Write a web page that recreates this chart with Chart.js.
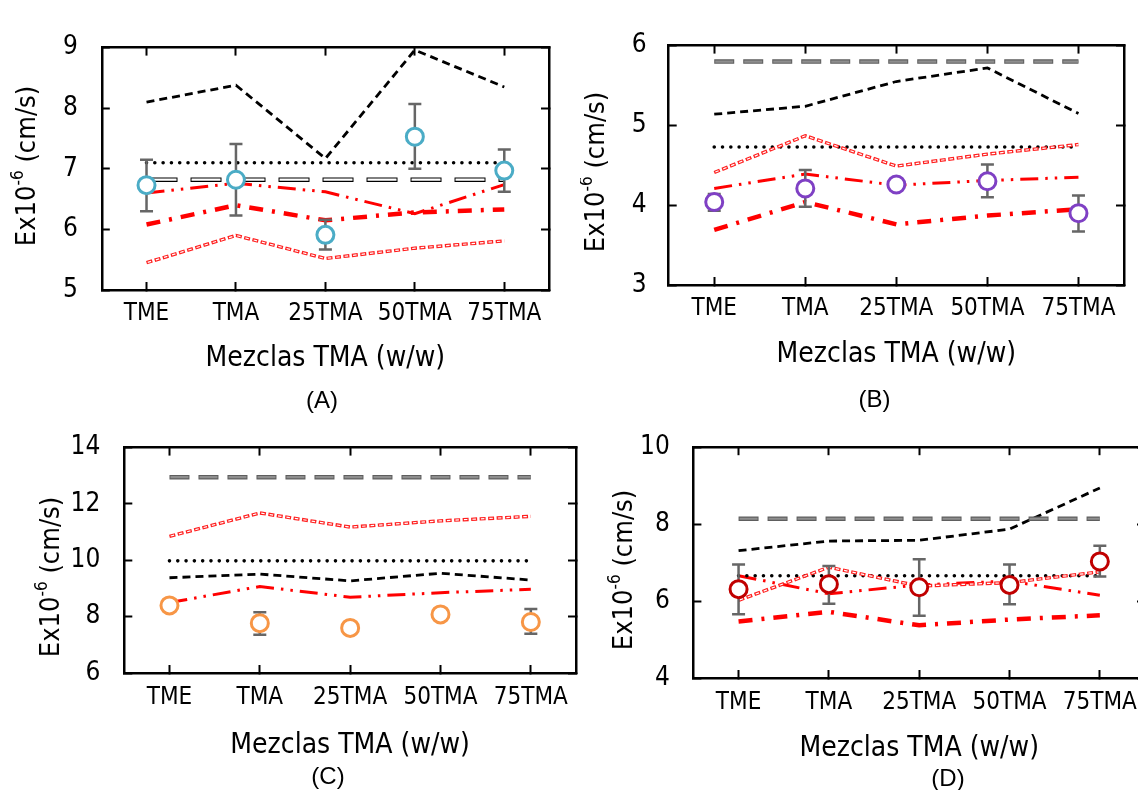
<!DOCTYPE html>
<html>
<head>
<meta charset="utf-8">
<script src="https://cdn.jsdelivr.net/npm/chart.js@4.4.1/dist/chart.umd.min.js"></script>
<style>
  html, body { margin: 0; padding: 0; background: #fff; }
  body { width: 1138px; height: 790px; overflow: hidden; position: relative; }
  canvas { position: absolute; }
</style>
</head>
<body>
<canvas id="chartA" width="580" height="420" style="left:0px;top:0px"></canvas>
<canvas id="chartB" width="558" height="420" style="left:580px;top:0px"></canvas>
<canvas id="chartC" width="590" height="390" style="left:0px;top:400px"></canvas>
<canvas id="chartD" width="570" height="390" style="left:590px;top:400px"></canvas>
<script>
var categories = ['TME', 'TMA', '25TMA', '50TMA', '75TMA'];
var xTitle = 'Mezclas TMA (w/w)';

// (A)
var aTicks = [5, 6, 7, 8, 9];
var aGrey = [6.82, 6.82, 6.82, 6.82, 6.82];
var aBlackDash = [8.10, 8.38, 7.17, 8.96, 8.35];
var aDotted = [7.10, 7.10, 7.10, 7.10, 7.10];
var aRedHollow = [5.45, 5.90, 5.52, 5.69, 5.81];
var aRedDashDotDot = [6.60, 6.76, 6.62, 6.26, 6.74];
var aRedDashDot = [6.08, 6.40, 6.15, 6.28, 6.33];
var aMean = [6.73, 6.82, 5.91, 7.53, 6.97];
var aLow = [6.30, 6.23, 5.67, 7.00, 6.62];
var aHigh = [7.15, 7.41, 6.16, 8.07, 7.32];

// (B)
var bTicks = [3, 4, 5, 6];
var bGrey = [5.80, 5.80, 5.80, 5.80, 5.80];
var bBlackDash = [5.14, 5.24, 5.55, 5.72, 5.15];
var bDotted = [4.73, 4.73, 4.73, 4.73, 4.73];
var bRedHollow = [4.41, 4.87, 4.49, 4.64, 4.76];
var bRedDashDotDot = [4.21, 4.39, 4.25, 4.31, 4.35];
var bRedDashDot = [3.69, 4.04, 3.76, 3.87, 3.95];
var bMean = [4.04, 4.21, 4.26, 4.30, 3.90];
var bLow = [3.93, 3.98, 4.22, 4.10, 3.67];
var bHigh = [4.14, 4.44, 4.30, 4.51, 4.12];

// (C)
var cTicks = [6, 8, 10, 12, 14];
var cGrey = [12.95, 12.95, 12.95, 12.95, 12.95];
var cBlackDash = [9.38, 9.51, 9.27, 9.54, 9.30];
var cDotted = [9.98, 9.98, 9.98, 9.98, 9.98];
var cRedHollow = [10.85, 11.68, 11.18, 11.40, 11.56];
var cRedDashDotDot = [8.50, 9.07, 8.69, 8.85, 8.97];
var cMean = [8.40, 7.77, 7.60, 8.08, 7.81];
var cLow = [8.32, 7.36, 7.55, 8.03, 7.39];
var cHigh = [8.48, 8.16, 7.65, 8.13, 8.27];

// (D)
var dTicks = [4, 6, 8, 10];
var dGrey = [8.14, 8.14, 8.14, 8.14, 8.14];
var dBlackDash = [7.31, 7.56, 7.58, 7.87, 8.94];
var dDotted = [6.66, 6.66, 6.66, 6.66, 6.66];
var dRedHollow = [6.02, 6.88, 6.39, 6.48, 6.76];
var dRedDashDotDot = [6.66, 6.19, 6.42, 6.52, 6.15];
var dRedDashDot = [5.47, 5.72, 5.37, 5.52, 5.63];
var dMean = [6.31, 6.44, 6.36, 6.42, 7.03];
var dLow = [5.66, 5.93, 5.62, 5.92, 6.64];
var dHigh = [6.95, 6.91, 7.09, 6.95, 7.44];

var NARROW = "'Liberation Sans Narrow', 'Arial Narrow', 'DejaVu Sans Condensed', 'Liberation Sans', Arial, sans-serif";
var PLAIN = "'Liberation Sans', Arial, sans-serif";

// error bars go under the circles (dataset 0 is the circles)
var errorBars = {
  id: 'errorBars',
  beforeDatasetDraw: function(chart, args, opts) {
    if (args.index !== 0) return;
    var ctx = chart.ctx, x = chart.scales.x, y = chart.scales.y;
    ctx.save();
    ctx.strokeStyle = '#666';
    ctx.lineWidth = 2.5;
    opts.low.forEach(function(lo, i) {
      var px = x.getPixelForValue(i);
      var y1 = y.getPixelForValue(lo), y2 = y.getPixelForValue(opts.high[i]);
      ctx.beginPath();
      ctx.moveTo(px, y1); ctx.lineTo(px, y2);
      ctx.moveTo(px - 6.5, y1); ctx.lineTo(px + 6.5, y1);
      ctx.moveTo(px - 6.5, y2); ctx.lineTo(px + 6.5, y2);
      ctx.stroke();
    });
    ctx.restore();
  }
};

// y title with the superscript, and the (A)..(D) letter
var panelText = {
  id: 'panelText',
  afterDraw: function(chart, args, opts) {
    var ctx = chart.ctx;
    var big = '27px ' + NARROW, small = '17px ' + NARROW;
    ctx.save();
    ctx.fillStyle = '#000';
    ctx.textBaseline = 'middle';
    ctx.textAlign = 'left';
    ctx.font = big;
    var w1 = ctx.measureText('Ex10').width, w3 = ctx.measureText(' (cm/s)').width;
    ctx.font = small;
    var w2 = ctx.measureText('-6').width;
    ctx.translate(opts.yTitle[0], opts.yTitle[1]);
    ctx.rotate(-Math.PI / 2);
    var x = -(w1 + w2 + w3) / 2;
    ctx.font = big; ctx.fillText('Ex10', x, 0); x += w1;
    ctx.font = small; ctx.fillText('-6', x, -9); x += w2;
    ctx.font = big; ctx.fillText(' (cm/s)', x, 0);
    ctx.restore();

    ctx.save();
    ctx.fillStyle = '#000';
    ctx.font = '24px ' + PLAIN;
    ctx.textAlign = 'center';
    ctx.textBaseline = 'middle';
    ctx.fillText(opts.letter, opts.letterPos[0], opts.letterPos[1]);
    ctx.restore();
  }
};

function lineSet(data, color, width, dash, offset, cap) {
  return {
    data: data, borderColor: color, borderWidth: width,
    borderDash: dash || [], borderDashOffset: offset || 0,
    borderCapStyle: cap || 'butt', pointRadius: 0, fill: false, tension: 0
  };
}

function makePanel(id, p) {
  var ds = [];
  ds.push({
    data: p.mean, showLine: false, pointRadius: 8.5, pointHoverRadius: 8.5,
    pointBorderWidth: 3, pointBorderColor: p.marker, pointBackgroundColor: '#fff',
    borderColor: p.marker, backgroundColor: '#fff'
  });
  // long dash constant line: outline + inner fill
  ds.push(lineSet(p.grey, p.greyInner, 2.2, [p.greyDash[0] - 2, p.greyDash[1] + 2], -1));
  ds.push(lineSet(p.grey, p.greyOuter, 4.6, p.greyDash));
  // red hollow dashes
  ds.push(lineSet(p.redHollow, '#fff', 1.2, [3.5, 5], -1.25));
  ds.push(lineSet(p.redHollow, '#ff2020', 3.4, [6, 2.5]));
  ds.push(lineSet(p.blackDash, '#000', 2.8, [8, 5]));
  ds.push(lineSet(p.dotted, '#000', 3.6, [0, 8.3], 0, 'round'));
  ds.push(lineSet(p.redDashDotDot, '#ff0000', 3, [18, 7, 2.5, 7, 2.5, 7]));
  if (p.redDashDot) ds.push(lineSet(p.redDashDot, '#ff0000', 4.5, [14, 9, 3, 9]));

  var t = p.ticks;
  var yMin = t[0], yMax = t[t.length - 1], step = t[1] - t[0];
  var frameGrid = { drawOnChartArea: false, tickLength: -8, tickWidth: 2, color: '#000' };
  var frameBorder = { display: true, color: '#000', width: 2.5 };

  return new Chart(document.getElementById(id), {
    type: 'line',
    data: { labels: categories, datasets: ds },
    options: {
      responsive: false,
      animation: false,
      devicePixelRatio: 1,
      layout: { padding: p.pad },
      plugins: {
        legend: { display: false },
        tooltip: { enabled: false },
        errorBars: { low: p.low, high: p.high },
        panelText: { yTitle: p.yTitle, letter: p.letter, letterPos: p.letterPos }
      },
      scales: {
        x: {
          type: 'category', position: 'bottom', offset: true,
          grid: frameGrid, border: frameBorder,
          ticks: { color: '#000', font: { family: NARROW, size: 24 }, padding: p.xPad, maxRotation: 0, autoSkip: false },
          title: { display: true, text: xTitle, color: '#000', font: { family: NARROW, size: 28 }, padding: 0 },
          afterFit: function(s) { s.height = p.xH; }
        },
        xTop: {
          type: 'category', position: 'top', offset: true,
          grid: frameGrid, border: frameBorder,
          ticks: { display: false },
          afterFit: function(s) { s.height = 0; }
        },
        y: {
          type: 'linear', position: 'left', min: yMin, max: yMax,
          grid: frameGrid, border: frameBorder,
          ticks: { stepSize: step, color: '#000', font: { family: NARROW, size: 26 }, padding: p.yPad },
          afterFit: function(s) { s.width = p.yW; }
        },
        yRight: {
          type: 'linear', position: 'right', min: yMin, max: yMax,
          grid: frameGrid, border: frameBorder,
          ticks: { stepSize: step, display: false },
          afterFit: function(s) { s.width = 0; }
        }
      }
    },
    plugins: [errorBars, panelText]
  });
}

makePanel('chartA', {
  ticks: aTicks, mean: aMean, low: aLow, high: aHigh, marker: '#4bacc6',
  grey: aGrey, greyOuter: '#000', greyInner: '#fff', greyDash: [31, 13],
  blackDash: aBlackDash, dotted: aDotted, redHollow: aRedHollow,
  redDashDotDot: aRedDashDotDot, redDashDot: aRedDashDot,
  pad: { left: 0, top: 19, right: 31, bottom: 44 }, yW: 101.8, xH: 86,
  xPad: 17, yPad: 32, yTitle: [28, 166], letter: '(A)', letterPos: [322, 401]
});

makePanel('chartB', {
  ticks: bTicks, mean: bMean, low: bLow, high: bHigh, marker: '#7f40c4',
  grey: bGrey, greyOuter: '#5e5e5e', greyInner: '#8e8e8e', greyDash: [20, 9],
  blackDash: bBlackDash, dotted: bDotted, redHollow: bRedHollow,
  redDashDotDot: bRedDashDotDot, redDashDot: bRedDashDot,
  pad: { left: 0, top: 24, right: 14, bottom: 48 }, yW: 88.7, xH: 87,
  xPad: 17, yPad: 30, yTitle: [17, 172], letter: '(B)', letterPos: [294.6, 400]
});

makePanel('chartC', {
  ticks: cTicks, mean: cMean, low: cLow, high: cHigh, marker: '#f79646',
  grey: cGrey, greyOuter: '#5e5e5e', greyInner: '#8e8e8e', greyDash: [20, 9],
  blackDash: cBlackDash, dotted: cDotted, redHollow: cRedHollow,
  redDashDotDot: cRedDashDotDot, redDashDot: null,
  pad: { left: 0, top: 29, right: 14, bottom: 27 }, yW: 124.3, xH: 90,
  xPad: 18, yPad: 32, yTitle: [52, 177], letter: '(C)', letterPos: [328, 377]
});

makePanel('chartD', {
  ticks: dTicks, mean: dMean, low: dLow, high: dHigh, marker: '#c00000',
  grey: dGrey, greyOuter: '#5e5e5e', greyInner: '#8e8e8e', greyDash: [20, 9],
  blackDash: dBlackDash, dotted: dDotted, redHollow: dRedHollow,
  redDashDotDot: dRedDashDotDot, redDashDot: dRedDashDot,
  pad: { left: 0, top: 35, right: 15, bottom: 24 }, yW: 103.4, xH: 88,
  xPad: 18, yPad: 31.6, yTitle: [35, 170], letter: '(D)', letterPos: [358, 379]
});
</script>
</body>
</html>
